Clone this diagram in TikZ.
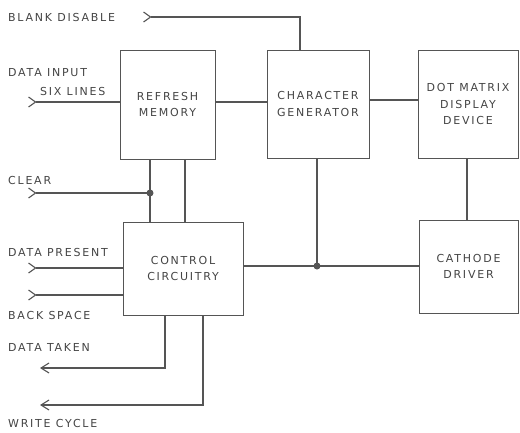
\documentclass[tikz,border=0pt]{standalone}
\usepackage{fontspec}
\newfontfamily\lbl[LetterSpace=16]{DejaVu Sans}
\usetikzlibrary{arrows.meta,calc}
\definecolor{ink}{HTML}{555555}
\definecolor{txt}{HTML}{444444}
\begin{document}
\begin{tikzpicture}[x=1pt,y=-1pt,
  wire/.style={draw=ink,line width=1.1pt},
  inwire/.style={wire,{Straight Barb[reversed,length=7pt,width=10pt,line width=1.1pt]}-},
  outwire/.style={wire,-{Straight Barb[length=8pt,width=10pt,line width=1.1pt]}},
  blk/.style={draw=ink,line width=1pt,inner sep=0pt,text=txt,align=center,
    font=\lbl\fontsize{11}{16.5}\selectfont},
  lab/.style={anchor=west,inner sep=0pt,text=txt,font=\lbl\fontsize{11}{12}\selectfont},
  jdot/.style={circle,fill=ink,inner sep=0pt,minimum size=7pt}]
\useasboundingbox (0,0) rectangle (520,432);
% blocks
\node[blk,minimum width=95pt,minimum height=109pt] (rm) at (167.5,104.5) {REFRESH\\MEMORY};
\node[blk,minimum width=102pt,minimum height=108pt] (cg) at (318,104) {CHARACTER\\GENERATOR};
\node[blk,minimum width=100pt,minimum height=108pt] (dmd) at (468,104) {DOT MATRIX\\DISPLAY\\DEVICE};
\node[blk,minimum width=120pt,minimum height=93pt] (cc) at (183,268.5) {CONTROL\\CIRCUITRY};
\node[blk,minimum width=99pt,minimum height=93pt] (cd) at (468.5,266.5) {CATHODE\\DRIVER};
% labels
\node[lab] (lbd) at (8,17) {BLANK DISABLE};
\node[lab] (ldi) at (8,73) {DATA INPUT};
\node[lab] (lsl) at (40,91) {SIX LINES};
\node[lab] (lcl) at (8,180) {CLEAR};
\node[lab] (ldp) at (8,252) {DATA PRESENT};
\node[lab] (lbs) at (8,315) {BACK SPACE};
\node[lab] (ldt) at (8,347) {DATA TAKEN};
\node[lab] (lwc) at (8,423) {WRITE CYCLE};
% terminals
\coordinate (bd) at (143,17);
\coordinate (di) at (28,102);
\coordinate (cl) at (28,193);
\coordinate (dp) at (28,268);
\coordinate (bs) at (28,295);
\coordinate (dt) at (40,368);
\coordinate (wc) at (40,405);
\node[jdot] (j1) at (150,193) {};
\node[jdot] (j2) at (317,266) {};
% connections
\draw[inwire] (bd) -| ($(cg.north)+(-18,0)$);
\draw[inwire] (di) -- (di -| rm.west);
\draw[wire] (rm.east |- di) -- (cg.west |- di);
\draw[wire] ($(cg.east)+(0,-4)$) -- ($(dmd.west)+(0,-4)$);
\draw[wire] (rm.south -| j1) -- (j1.center) -- (cc.north -| j1);
\draw[wire] ($(rm.south)+(17.5,0)$) -- ($(cc.north)+(2,0)$);
\draw[inwire] (cl) -- (j1.center);
\draw[inwire] (dp) -- (dp -| cc.west);
\draw[inwire] (bs) -- (bs -| cc.west);
\draw[wire] (cc.east |- j2) -- (j2.center) -- (cd.west |- j2);
\draw[wire] (cg.south -| j2) -- (j2.center);
\draw[wire] ($(dmd.south)+(-1,0)$) -- ($(cd.north)+(-1.5,0)$);
\draw[outwire] ($(cc.south)+(-18,0)$) |- (dt);
\draw[outwire] ($(cc.south)+(20,0)$) |- (wc);
\end{tikzpicture}
\end{document}
